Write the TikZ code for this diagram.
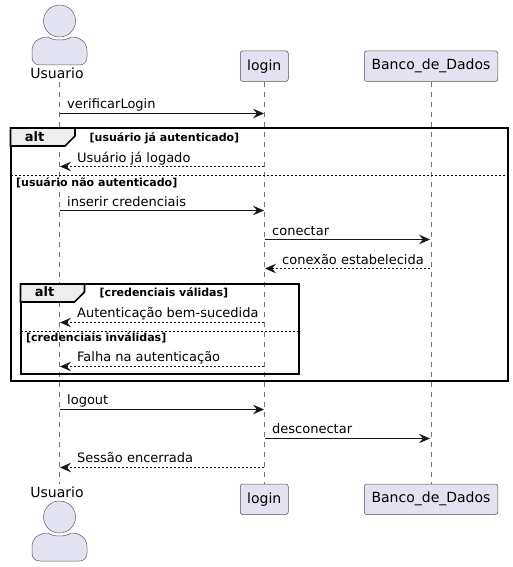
\documentclass[tikz,border=0pt]{standalone}
\usepackage{fontspec}
\setmainfont{DejaVu Sans}
\usetikzlibrary{arrows.meta}
\definecolor{partfill}{HTML}{E2E2F0}
\definecolor{partline}{HTML}{181818}
\definecolor{tabfill}{HTML}{EEEEEE}
\tikzset{
  x=1pt,y=-1pt,
  partbox/.style={draw=partline!75,fill=partfill,line width=0.5pt,rounded corners=2.5pt,minimum height=30.5pt,inner xsep=0pt,inner ysep=0pt,font=\fontsize{14}{16}\selectfont,text=black},
  actorpart/.style={draw=partline!70,fill=partfill,line width=0.5pt},
  actorname/.style={font=\fontsize{14}{16}\selectfont,text=black,inner sep=0pt,anchor=base},
  lifeline/.style={draw=partline!60,line width=0.5pt,dash pattern=on 5pt off 5pt},
  msg/.style={draw=partline,line width=1pt,-{Stealth[length=11pt,width=9.5pt,inset=4pt]}},
  ret/.style={msg,dash pattern=on 2pt off 2pt},
  msgtext/.style={font=\fontsize{13}{15}\selectfont,text=black,inner sep=0pt,anchor=base west},
  frameline/.style={draw=black,line width=2pt},
  tabstyle/.style={draw=black,line width=1.6pt,fill=tabfill},
  divider/.style={draw=black,line width=0.8pt,dash pattern=on 2pt off 2pt},
  alttext/.style={font=\fontsize{13}{15}\bfseries\selectfont,text=black,inner sep=0pt,anchor=base},
  condtext/.style={font=\fontsize{11}{13}\bfseries\selectfont,text=black,inner sep=0pt,anchor=base west},
}
\newcommand{\actorfig}[1]{%
  \begin{scope}[yshift=-#1pt]
    \draw[actorpart] (59.5,16) circle[radius=16];
    \draw[actorpart] (32,46) .. controls (32,37) and (39,32) .. (48,32)
      .. controls (53,36) and (66,36) .. (71,32)
      .. controls (80,32) and (87,37) .. (87,46)
      -- (87,52)
      .. controls (87,57) and (84,60) .. (79,60) -- (40,60)
      .. controls (35,60) and (32,57) .. (32,52) -- cycle;
  \end{scope}}
\begin{document}
\begin{tikzpicture}
\useasboundingbox (0,0) rectangle (513,567);
% lifeline columns
\coordinate (Uin) at (60,0);
\coordinate (Lin) at (264,0);
\coordinate (Lout) at (265,0);
\coordinate (Bin) at (430,0);
% lifelines
\coordinate (utop) at (59.5,82);
\coordinate (ubot) at (59.5,484);
\draw[lifeline] (utop) -- (ubot);
\node[partbox,minimum width=48pt] (logintop) at (264.25,66.25) {\raisebox{-0.6pt}{login}};
\node[partbox,minimum width=133.5pt] (bancotop) at (431,66.25) {\raisebox{-0.6pt}{Banco\_de\_Dados}};
\node[partbox,minimum width=48pt] (loginbot) at (264.25,499.25) {\raisebox{-0.6pt}{login}};
\node[partbox,minimum width=133.5pt] (bancobot) at (431,499.25) {\raisebox{-0.6pt}{Banco\_de\_Dados}};
\draw[lifeline] (logintop) -- (loginbot);
\draw[lifeline] (bancotop) -- (bancobot);
% actors
\actorfig{5}
\actorfig{501}
\node[actorname] (usertop) at (57,79) {Usuario};
\node[actorname] (userbot) at (57,497) {Usuario};
% message rows
\foreach \n/\y in {m1/113.5,m2/166.5,m3/210.5,m4/239.5,m5/268.5,m6/322.5,m7/366.5,m8/409.5,m9/438.5,m10/467.5}
  \coordinate (\n) at (0,\y);
% outer frame
\draw[frameline] (10.5,128) rectangle (508,381);
\draw[tabstyle] (10.5,128) -- (75,128) -- (75,136) -- (65,146) -- (10.5,146) -- cycle;
\draw[divider] (10.5,175) -- (508,175);
\node[alttext] (alt1) at (34.5,141) {alt};
\node[condtext] (c1) at (89.5,141) {[usuário já autenticado]};
\node[condtext] (c2) at (16,186) {[usuário não autenticado]};
% inner frame
\draw[frameline] (20.5,284) rectangle (298.5,374);
\draw[tabstyle] (20.5,284) -- (84.5,284) -- (84.5,292) -- (74.5,302) -- (20.5,302) -- cycle;
\draw[divider] (20.5,331) -- (298.5,331);
\node[alttext] (alt2) at (44.5,296.5) {alt};
\node[condtext] (c3) at (99.5,296) {[credenciais válidas]};
\node[condtext] (c4) at (26,341) {[credenciais inválidas]};
% messages
\draw[msg] (Uin|-m1) -- (Lin|-m1);
\node[msgtext] (t1) at (67,108.6) {verificarLogin};
\draw[ret] (Lin|-m2) -- (Uin|-m2);
\node[msgtext] (t2) at (77,162) {Usuário já logado};
\draw[msg] (Uin|-m3) -- (Lin|-m3);
\node[msgtext] (t3) at (67,206.2) {inserir credenciais};
\draw[msg] (Lout|-m4) -- (Bin|-m4);
\node[msgtext] (t4) at (272,235.2) {conectar};
\draw[ret] (Bin|-m5) -- (Lout|-m5);
\node[msgtext] (t5) at (282,264) {conexão estabelecida};
\draw[ret] (Lin|-m6) -- (Uin|-m6);
\node[msgtext] (t6) at (77,317.6) {Autenticação bem-sucedida};
\draw[ret] (Lin|-m7) -- (Uin|-m7);
\node[msgtext] (t7) at (77,361.6) {Falha na autenticação};
\draw[msg] (Uin|-m8) -- (Lin|-m8);
\node[msgtext] (t8) at (67,404.8) {logout};
\draw[msg] (Lout|-m9) -- (Bin|-m9);
\node[msgtext] (t9) at (272,433.6) {desconectar};
\draw[ret] (Lin|-m10) -- (Uin|-m10);
\node[msgtext] (t10) at (77,462.6) {Sessão encerrada};
\end{tikzpicture}
\end{document}
